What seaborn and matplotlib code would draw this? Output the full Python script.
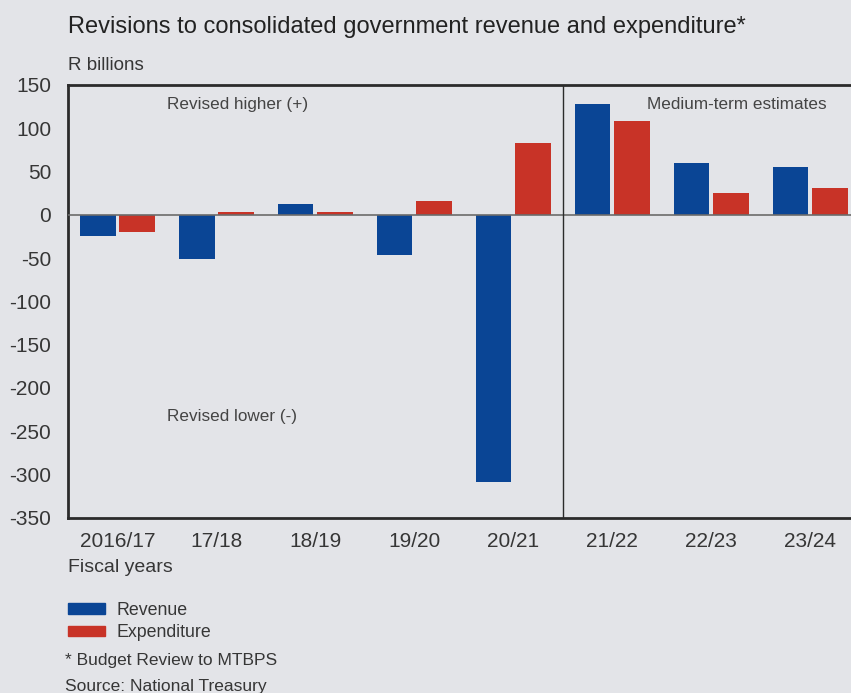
import numpy as np
import pandas as pd
import seaborn as sns
import matplotlib.pyplot as plt
from matplotlib.patches import Patch
from matplotlib.ticker import FixedLocator

years = ["2016/17", "17/18", "18/19", "19/20", "20/21", "21/22", "22/23", "23/24"]
revenue = [-25, -51, 12, -47, -309, 128, 60, 55]
expenditure = [-20, 3, 3, 16, 83, 108, 25, 31]

data = pd.DataFrame({
    "Year": years * 2,
    "Series": ["Revenue"] * len(years) + ["Expenditure"] * len(years),
    "Value": revenue + expenditure,
})

bg = "#e3e4e8"
dark = "#2b2b2b"
txt = "#363636"
blue = "#0a4595"
red = "#c83327"

sns.set_style("white")
plt.rcParams["font.family"] = ["Liberation Sans", "DejaVu Sans"]
plt.rcParams["axes.unicode_minus"] = False

fig = plt.figure(figsize=(8.51, 6.93), dpi=100, facecolor=bg)
ax = fig.add_axes([68 / 851, 1 - 517.7 / 693, 1 - 68 / 851, (517.7 - 85) / 693])
ax.set_facecolor(bg)

sns.barplot(data=data, x="Year", y="Value", hue="Series", order=years,
            hue_order=["Revenue", "Expenditure"], palette=[blue, red],
            width=0.8, gap=0.1, saturation=1, linewidth=0, legend=False,
            ax=ax, zorder=2)

ax.set_xlim(-0.5, 7.41)
ax.set_ylim(-350, 150)
ax.set_yticks(np.arange(-350, 151, 50))
ax.axhline(0, color="#6b6b6b", lw=1.2, zorder=3)
ax.axvline(4.5, color=dark, lw=1.0, zorder=3)

for side in ["left", "top", "bottom"]:
    ax.spines[side].set_color(dark)
    ax.spines[side].set_linewidth(2.0)
ax.spines["right"].set_visible(False)

ax.tick_params(axis="y", direction="in", length=6.5, width=2, color=dark,
               labelsize=15, labelcolor=txt, pad=12)
ax.tick_params(axis="x", which="major", length=0, labelsize=15,
               labelcolor=txt, pad=10)
ax.xaxis.set_minor_locator(FixedLocator(np.arange(0.5, 7, 1)))
ax.tick_params(axis="x", which="minor", direction="in", length=10, width=1.6,
               color=dark)
ax.set_xlabel("")
ax.set_ylabel("")

ax.text(0.5, 127, "Revised higher (+)", fontsize=12.3, color="#444444",
        va="center", ha="left")
ax.text(0.5, -233, "Revised lower (-)", fontsize=12.3, color="#444444",
        va="center", ha="left")
ax.text(5.35, 127, "Medium-term estimates", fontsize=12.3, color="#444444",
        va="center", ha="left")

fig.text(68 / 851, 1 - 27 / 693, "Revisions to consolidated government revenue and expenditure*",
         fontsize=17, color="#222222", va="center", ha="left")
fig.text(68 / 851, 1 - 65 / 693, "R billions", fontsize=13.5, color=txt,
         va="center", ha="left")
fig.text(68 / 851, 1 - 568 / 693, "Fiscal years", fontsize=14, color=txt,
         va="center", ha="left")

handles = [Patch(color=blue, label="Revenue"), Patch(color=red, label="Expenditure")]
fig.legend(handles=handles, loc="upper left", bbox_to_anchor=(68 / 851, 1 - 602 / 693),
           frameon=False, fontsize=12.8, handlelength=2.1, handleheight=0.55,
           handletextpad=0.6, labelspacing=0.3, borderpad=0, borderaxespad=0,
           labelcolor=txt)

fig.text(65 / 851, 1 - 660 / 693, "* Budget Review to MTBPS", fontsize=12.5,
         color=txt, va="center", ha="left")
fig.text(65 / 851, 1 - 686 / 693, "Source: National Treasury", fontsize=12.5,
         color=txt, va="center", ha="left")

fig.savefig("out.png", dpi=100, facecolor=bg)
